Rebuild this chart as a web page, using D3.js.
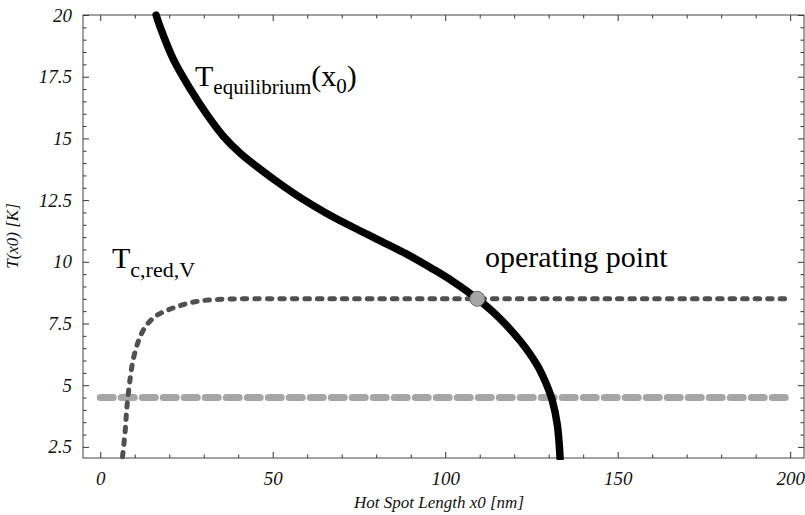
<!DOCTYPE html>
<html>
<head>
<meta charset="utf-8">
<script src="https://cdn.jsdelivr.net/npm/d3@7"></script>
<style>
  body { margin: 0; background: #fff; }
  svg { display: block; }
  svg text { font-family: "Liberation Serif", "Times New Roman", serif; }
</style>
</head>
<body>
<svg id="chart" width="805" height="515"></svg>
<script>
// ---- data ----
const eqX = [16.2, 17.4, 21.2, 26.1, 31.0, 35.6, 40.6, 46.4, 52.2, 58.0, 65.8, 73.3, 81.2, 89.0, 96.5, 102.3, 109.3, 115.5, 121.7, 126.7, 129.6, 131.0, 132.5, 133.3];
const eqT = [20.0, 19.5, 18.2, 17.0, 15.95, 15.1, 14.4, 13.75, 13.15, 12.6, 11.95, 11.4, 10.85, 10.3, 9.7, 9.2, 8.5, 7.75, 6.8, 5.8, 4.95, 4.4, 3.4, 2.05];
const tcX = [6.46, 7.25, 7.74, 8.70, 9.65, 11.1, 13.0, 15.9, 19.7, 23.7, 27.5, 31.3, 40, 60, 100, 150, 200];
const tcT = [2.10, 3.18, 4.13, 5.30, 6.10, 6.80, 7.35, 7.78, 8.05, 8.25, 8.38, 8.45, 8.5, 8.5, 8.5, 8.5, 8.5];
const baseX = [0, 200];
const baseT = [4.5, 4.5];
const opPoint = [109.3, 8.5];
const xMajorTicks = [0, 50, 100, 150, 200];
const yMajorTicks = [2.5, 5, 7.5, 10, 12.5, 15, 17.5, 20];
const xLabel = "Hot Spot Length x0 [nm]";
const yLabel = "T(x0) [K]";

// ---- layout ----
const L = 83, R = 805, T = 15, B = 458;
const svg = d3.select("#chart");
const x = d3.scaleLinear().domain([-5, 204.3]).range([L, R]);
const y = d3.scaleLinear().domain([2.05, 20]).range([B, T]);

const xMinor = d3.range(0, 201, 10).filter(v => !xMajorTicks.includes(v));
const yMinor = d3.range(2.5, 20.01, 0.5).map(v => +v.toFixed(1)).filter(v => !yMajorTicks.includes(v));

const serif = '"Liberation Serif", "Times New Roman", serif';

function styleAxis(g) {
  g.select(".domain").remove();
  g.selectAll(".tick line").attr("stroke", "#333").attr("stroke-width", 1);
  g.selectAll("text").style("font-family", serif).style("font-style", "italic")
    .attr("font-size", 19).attr("fill", "#111");
}

// bottom
svg.append("g").attr("transform", `translate(0,${B})`)
  .call(d3.axisBottom(x).tickValues(xMajorTicks).tickSize(-6).tickPadding(14).tickFormat(d3.format("d")))
  .call(styleAxis);
svg.append("g").attr("transform", `translate(0,${B})`)
  .call(d3.axisBottom(x).tickValues(xMinor).tickSize(-3.5).tickFormat(""))
  .call(styleAxis);
// top
svg.append("g").attr("transform", `translate(0,${T})`)
  .call(d3.axisTop(x).tickValues(xMajorTicks).tickSize(-6).tickFormat(""))
  .call(styleAxis);
svg.append("g").attr("transform", `translate(0,${T})`)
  .call(d3.axisTop(x).tickValues(xMinor).tickSize(-3.5).tickFormat(""))
  .call(styleAxis);
// left
svg.append("g").attr("transform", `translate(${L},0)`)
  .call(d3.axisLeft(y).tickValues(yMajorTicks).tickSize(-6).tickPadding(11).tickFormat(d => String(d)))
  .call(styleAxis);
svg.append("g").attr("transform", `translate(${L},0)`)
  .call(d3.axisLeft(y).tickValues(yMinor).tickSize(-3.5).tickFormat(""))
  .call(styleAxis);
// right
svg.append("g").attr("transform", `translate(${R - 1},0)`)
  .call(d3.axisRight(y).tickValues(yMajorTicks).tickSize(-6).tickFormat(""))
  .call(styleAxis);
svg.append("g").attr("transform", `translate(${R - 1},0)`)
  .call(d3.axisRight(y).tickValues(yMinor).tickSize(-3.5).tickFormat(""))
  .call(styleAxis);

// frame
svg.append("rect").attr("x", L).attr("y", T).attr("width", R - 1 - L).attr("height", B - T)
  .attr("fill", "none").attr("stroke", "#444").attr("stroke-width", 1);

// clip
svg.append("clipPath").attr("id", "clip").append("rect")
  .attr("x", L).attr("y", T - 4).attr("width", R - L).attr("height", B - T + 6);
const plot = svg.append("g").attr("clip-path", "url(#clip)");

const line = d3.line().x(d => x(d[0])).y(d => y(d[1])).curve(d3.curveCatmullRom.alpha(0.5));

// baseline 4.5 K (light gray dashed)
plot.append("path").datum(d3.zip(baseX, baseT)).attr("d", line)
  .attr("fill", "none").attr("stroke", "#a6a6a6").attr("stroke-width", 7)
  .attr("stroke-linecap", "round").attr("stroke-dasharray", "13,8");

// Tc,red,V (dark gray dashed)
plot.append("path").datum(d3.zip(tcX, tcT)).attr("d", line)
  .attr("fill", "none").attr("stroke", "#505050").attr("stroke-width", 5)
  .attr("stroke-linecap", "round").attr("stroke-dasharray", "4.5,8");

// T equilibrium (thick black)
plot.append("path").datum(d3.zip(eqX, eqT)).attr("d", line)
  .attr("fill", "none").attr("stroke", "#000").attr("stroke-width", 7.5)
  .attr("stroke-linecap", "round");

// operating point
plot.append("circle").attr("cx", x(opPoint[0])).attr("cy", y(opPoint[1])).attr("r", 7.5)
  .attr("fill", "#a6a6a6").attr("stroke", "#6e6e6e").attr("stroke-width", 1);

// ---- labels ----
const t1 = svg.append("text").attr("x", 195).attr("y", 86).style("font-family", serif).attr("fill", "#000");
t1.append("tspan").attr("font-size", 30).text("T");
t1.append("tspan").attr("font-size", 21).attr("dy", 8).text("equilibrium");
t1.append("tspan").attr("font-size", 30).attr("dy", -8).text("(x");
t1.append("tspan").attr("font-size", 21).attr("dy", 7).text("0");
t1.append("tspan").attr("font-size", 30).attr("dy", -7).text(")");

const t2 = svg.append("text").attr("x", 112).attr("y", 268).style("font-family", serif).attr("fill", "#000");
t2.append("tspan").attr("font-size", 30).text("T");
t2.append("tspan").attr("font-size", 22).attr("dy", 9).text("c,red,V");

svg.append("text").attr("x", 485).attr("y", 267).style("font-family", serif)
  .attr("font-size", 30).attr("fill", "#000").text("operating point");

svg.append("text").attr("x", (L + R) / 2 - 5).attr("y", 508).attr("text-anchor", "middle")
  .style("font-family", serif).style("font-style", "italic").attr("font-size", 17).attr("fill", "#111")
  .text(xLabel);

svg.append("text").attr("transform", "translate(18,236) rotate(-90)").attr("text-anchor", "middle")
  .style("font-family", serif).style("font-style", "italic").attr("font-size", 17).attr("fill", "#111")
  .text(yLabel);
</script>
</body>
</html>
